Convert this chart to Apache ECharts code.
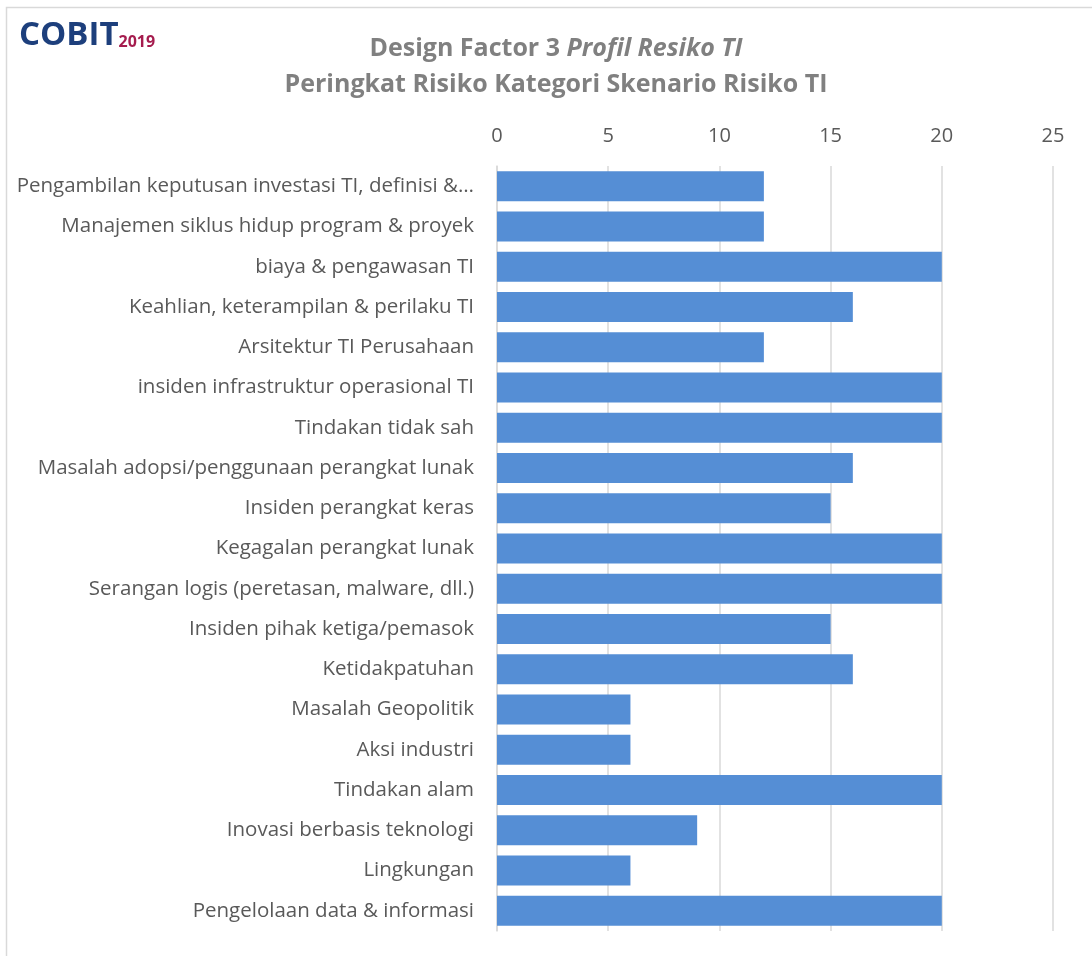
<!DOCTYPE html>
<html><head><meta charset="utf-8">
<script src="https://cdn.jsdelivr.net/npm/echarts@6/dist/echarts.min.js"></script>
<style>html,body{margin:0;padding:0;background:#fff}#c{width:1092px;height:956px}</style>
</head><body><div id="c"></div>
<script>
const categories = [
  "Pengambilan keputusan investasi TI, definisi &…",
  "Manajemen siklus hidup program & proyek",
  "biaya & pengawasan TI",
  "Keahlian, keterampilan & perilaku TI",
  "Arsitektur TI Perusahaan",
  "insiden infrastruktur operasional TI",
  "Tindakan tidak sah",
  "Masalah adopsi/penggunaan perangkat lunak",
  "Insiden perangkat keras",
  "Kegagalan perangkat lunak",
  "Serangan logis (peretasan, malware, dll.)",
  "Insiden pihak ketiga/pemasok",
  "Ketidakpatuhan",
  "Masalah Geopolitik",
  "Aksi industri",
  "Tindakan alam",
  "Inovasi berbasis teknologi",
  "Lingkungan",
  "Pengelolaan data & informasi"
];
const values = [12, 12, 20, 16, 12, 20, 20, 16, 15, 20, 20, 15, 16, 6, 6, 20, 9, 6, 20];
const titleLine1 = "Design Factor 3 ";
const titleItalic = "Profil Resiko TI";
const titleLine2 = "Peringkat Risiko Kategori Skenario Risiko TI";

const font = "'Open Sans', 'Noto Sans', sans-serif";
const chart = echarts.init(document.getElementById('c'), null, {renderer: 'canvas'});
chart.setOption({
  animation: false,
  backgroundColor: '#fff',
  title: {
    text: '{b|' + titleLine1 + '}{i|' + titleItalic + '}\n{b|' + titleLine2 + '}',
    left: 551, top: 26, textAlign: 'center',
    textStyle: {
      rich: {
        b: {fontFamily: font, fontWeight: 'bold', fontSize: 25, color: '#808080', lineHeight: 36},
        i: {fontFamily: font, fontWeight: 'bold', fontStyle: 'italic', fontSize: 25, color: '#808080', lineHeight: 36}
      }
    }
  },
  graphic: [
    {type: 'rect', shape: {x: 6.5, y: 7.5, width: 1200, height: 1000}, style: {fill: 'none', stroke: '#d9d9d9', lineWidth: 1.5}, silent: true},
    {type: 'text', left: 19, top: 19, style: {text: '{c|COBIT}{y|2019}', rich: {
      c: {fontFamily: font, fontWeight: 'bold', fontSize: 33, fill: '#1d3f7c'},
      y: {fontFamily: font, fontWeight: 'bold', fontSize: 16, fill: '#a51c4e', padding: [14, 0, 0, 0]}
    }}}
  ],
  grid: {left: 497, right: 39, top: 166, bottom: 25, containLabel: false},
  xAxis: {
    type: 'value', position: 'top', min: 0, max: 25, interval: 5,
    axisLine: {show: false}, axisTick: {show: false},
    axisLabel: {color: '#595959', fontSize: 20, fontFamily: font, margin: 20},
    splitLine: {lineStyle: {color: '#d9d9d9', width: 1.5}}
  },
  yAxis: {
    type: 'category', data: categories, inverse: true,
    axisLine: {show: true, lineStyle: {color: '#d9d9d9', width: 1.5}},
    axisTick: {show: false},
    axisLabel: {color: '#595959', fontSize: 20.5, fontFamily: font, margin: 23}
  },
  series: [{
    type: 'bar', data: values, barWidth: 30,
    itemStyle: {color: '#558ed5'}
  }]
});
</script></body></html>
